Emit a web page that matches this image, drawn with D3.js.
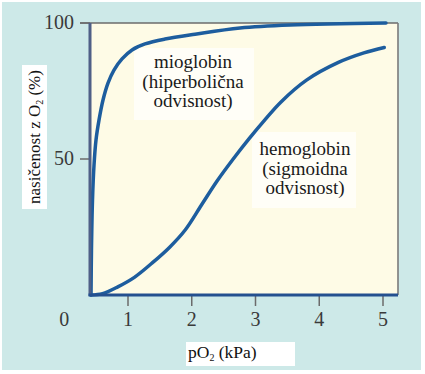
<!DOCTYPE html>
<html>

<head>
    <meta charset="utf-8">
    <title>Vezava kisika</title>
    <script src="https://d3js.org/d3.v7.min.js"></script>
    <style>
        body { margin: 0; background: #fff; }
    </style>
</head>

<body>
    <svg width="425" height="374"></svg>
    <script>
        // odčitano s slike
        const myoX = [0.42, 0.427, 0.443, 0.467, 0.498, 0.545, 0.608, 0.686, 0.78, 0.906, 1.063, 1.267, 1.58, 2.051, 2.757, 3.541, 5.047];
        const myoY = [0, 16.5, 34.9, 47.8, 57, 64.3, 71.7, 77.9, 82.7, 86.8, 90.1, 92.3, 94.1, 95.9, 98.2, 99.3, 100];
        const hemoX = [0.415, 0.6, 0.84, 1.1, 1.38, 1.65, 1.9, 2.15, 2.4, 2.65, 2.9, 3.15, 3.4, 3.8, 4.3, 4.7, 5.02];
        const hemoY = [0, 0.5, 3, 6.5, 11.8, 17.5, 24, 33, 42, 50, 57.5, 64.5, 71, 79, 85.5, 89, 91];
        const xTicks = [1, 2, 3, 4, 5];
        const yTicks = [50, 100];

        const serif = '"Liberation Serif", "Times New Roman", serif';
        const svg = d3.select("svg");

        const x = d3.scaleLinear().domain([0, 5]).range([64.25, 383]);
        const y = d3.scaleLinear().domain([0, 100]).range([295, 23]);
        const plotLeft = 90, plotRight = 398;

        // ozadje
        svg.append("rect")
            .attr("x", 2).attr("y", 2)
            .attr("width", 419).attr("height", 368)
            .attr("fill", "#cde9e8");

        svg.append("rect")
            .attr("x", plotLeft).attr("y", y(100))
            .attr("width", plotRight - plotLeft).attr("height", y(0) - y(100))
            .attr("fill", "#fefbe6");

        // bele podlage za napise
        svg.append("rect").attr("x", 134).attr("y", 48).attr("width", 120).attr("height", 72).attr("fill", "#fffef7");
        svg.append("rect").attr("x", 252).attr("y", 132).attr("width", 104).attr("height", 76).attr("fill", "#fffef7");

        // okvir
        svg.append("line")
            .attr("x1", 80).attr("x2", plotRight)
            .attr("y1", y(100)).attr("y2", y(100))
            .attr("stroke", "#6b6b6b").attr("stroke-width", 1.6);
        svg.append("line")
            .attr("x1", plotRight).attr("x2", plotRight)
            .attr("y1", y(100)).attr("y2", y(0))
            .attr("stroke", "#7a7a7a").attr("stroke-width", 1.6);

        svg.append("g")
            .selectAll("line")
            .data(yTicks)
            .join("line")
            .attr("x1", 80).attr("x2", plotLeft)
            .attr("y1", d => y(d)).attr("y2", d => y(d))
            .attr("stroke", "#6b6b6b").attr("stroke-width", 1.5);

        svg.append("g")
            .selectAll("line")
            .data(xTicks)
            .join("line")
            .attr("x1", d => x(d)).attr("x2", d => x(d))
            .attr("y1", y(0)).attr("y2", y(0) + 11)
            .attr("stroke", "#6b6b6b").attr("stroke-width", 1.5);

        // krivulje
        const line = d3.line()
            .x(d => x(d[0]))
            .y(d => y(d[1]))
            .curve(d3.curveCatmullRom.alpha(0.5));

        svg.append("path")
            .datum(myoX.map((v, i) => [v, myoY[i]]))
            .attr("d", line)
            .attr("fill", "none")
            .attr("stroke", "#1d5d9e")
            .attr("stroke-width", 3.5)
            .attr("stroke-linecap", "round");

        svg.append("path")
            .datum(hemoX.map((v, i) => [v, hemoY[i]]))
            .attr("d", line)
            .attr("fill", "none")
            .attr("stroke", "#1d5d9e")
            .attr("stroke-width", 3.5)
            .attr("stroke-linecap", "round");

        // osi
        svg.append("line")
            .attr("x1", plotLeft).attr("x2", plotLeft)
            .attr("y1", y(100)).attr("y2", y(0) + 1)
            .attr("stroke", "#4f5f86").attr("stroke-width", 3);
        svg.append("line")
            .attr("x1", plotLeft - 1.5).attr("x2", plotRight)
            .attr("y1", y(0)).attr("y2", y(0))
            .attr("stroke", "#24508f").attr("stroke-width", 3);

        // oznake
        svg.append("g")
            .selectAll("text")
            .data(yTicks)
            .join("text")
            .attr("x", 74).attr("y", d => y(d) + 6)
            .attr("text-anchor", "end")
            .attr("font-size", 20)
            .attr("fill", "#3a3a3a")
            .style("font-family", serif)
            .text(d => d);

        svg.append("g")
            .selectAll("text")
            .data([0].concat(xTicks))
            .join("text")
            .attr("x", d => x(d)).attr("y", 326)
            .attr("text-anchor", "middle")
            .attr("font-size", 20)
            .attr("fill", "#3a3a3a")
            .style("font-family", serif)
            .text(d => d);

        // naslov osi y
        svg.append("rect").attr("x", 22).attr("y", 65).attr("width", 25).attr("height", 144).attr("fill", "#fff");
        const yLab = svg.append("text")
            .attr("transform", "translate(40,137) rotate(-90)")
            .attr("text-anchor", "middle")
            .attr("font-size", 17)
            .attr("fill", "#111")
            .style("font-family", serif);
        yLab.append("tspan").text("nasičenost z O");
        yLab.append("tspan").attr("font-size", 10).attr("dy", 3).text("2");
        yLab.append("tspan").attr("dy", -3).text(" (%)");

        // naslov osi x
        svg.append("rect").attr("x", 186).attr("y", 342).attr("width", 109).attr("height", 24).attr("fill", "#fff");
        const xLab = svg.append("text")
            .attr("x", 188).attr("y", 358)
            .attr("font-size", 17.5)
            .attr("fill", "#111")
            .style("font-family", serif);
        xLab.append("tspan").text("pO");
        xLab.append("tspan").attr("font-size", 10).attr("dy", 3).text("2");
        xLab.append("tspan").attr("dy", -3).text(" (kPa)");

        // napisi krivulj
        svg.append("text")
            .attr("text-anchor", "middle")
            .attr("font-size", 19)
            .attr("fill", "#1a1a1a")
            .style("font-family", serif)
            .selectAll("tspan")
            .data(["mioglobin", "(hiperbolična", "odvisnost)"])
            .join("tspan")
            .attr("x", 193)
            .attr("y", (d, i) => 68 + i * 19.5)
            .text(d => d);

        svg.append("text")
            .attr("text-anchor", "middle")
            .attr("font-size", 19)
            .attr("fill", "#1a1a1a")
            .style("font-family", serif)
            .selectAll("tspan")
            .data(["hemoglobin", "(sigmoidna", "odvisnost)"])
            .join("tspan")
            .attr("x", 305)
            .attr("y", (d, i) => 155 + i * 19.5)
            .text(d => d);
    </script>
</body>

</html>
